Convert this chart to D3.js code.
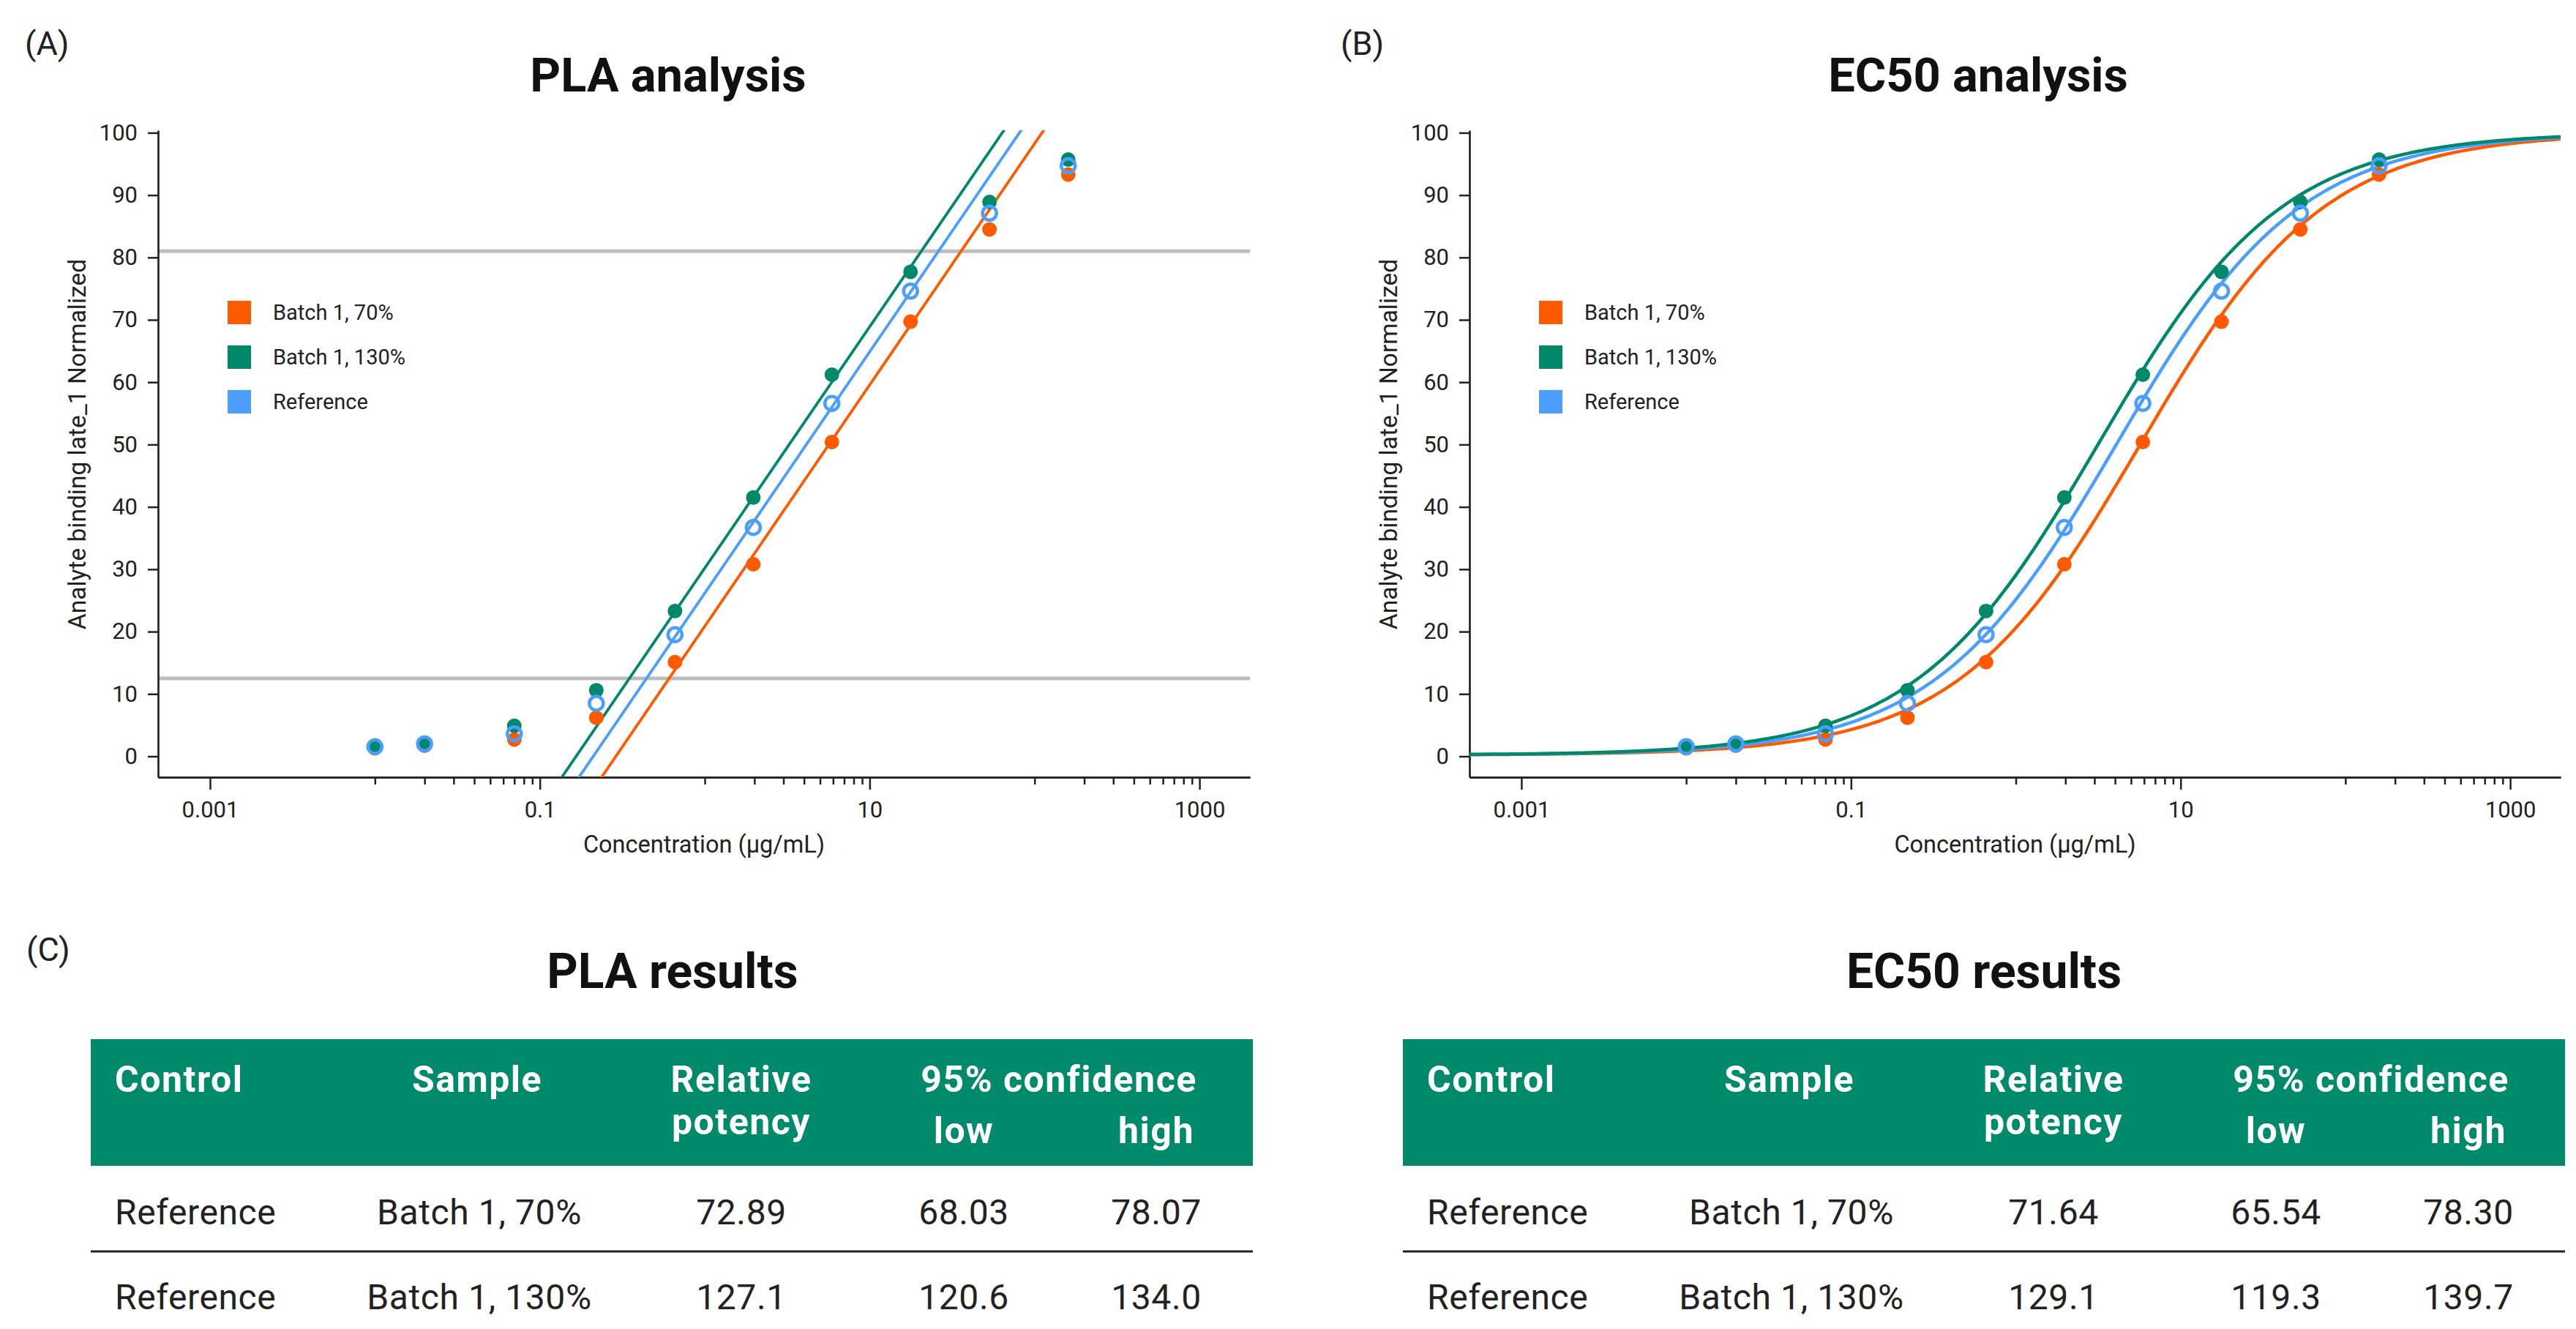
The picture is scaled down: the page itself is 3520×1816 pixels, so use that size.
<!DOCTYPE html>
<html>
<head>
<meta charset="utf-8">
<script src="https://cdn.jsdelivr.net/npm/d3@7"></script>
<style>
  body { margin: 0; background: #fff; }
  svg { display: block; font-family: Roboto, "Noto Sans", sans-serif; }
</style>
</head>
<body>
<svg id="fig" width="3520" height="1816"></svg>
<script>
// concentrations in µg/mL
const concentrations = [0.01, 0.02, 0.07, 0.22, 0.66, 1.97, 5.9, 17.7, 53.3, 160];

// normalized binding per series
const batch70 = [1.3, 1.7, 2.7, 6.2, 15.1, 30.8, 50.4, 69.7, 84.5, 93.3];
const batch130 = [1.5, 2.05, 4.9, 10.6, 23.3, 41.5, 61.2, 77.7, 88.9, 95.7];
const referenceValues = [1.55, 2.0, 3.6, 8.5, 19.5, 36.7, 56.6, 74.6, 87.1, 94.7];

const seriesNames = ["Batch 1, 70%", "Batch 1, 130%", "Reference"];
const seriesColors = ["#ff5a00", "#00886b", "#4a9eff"];

// PLA: parallel straight fits (slope per decade, log10 conc at 50 %)
const plaSlope = 38.7;
const plaMidLog = [0.753, 0.512, 0.616];
const plaLimits = [12.5, 81.0];

// EC50: 4-parameter logistic fits
const ec50Hill = 0.78;
const ec50Top = 100;
const ec50Bottom = 0.2;
const ec50Log = [0.757, 0.501, 0.612];

const yTicks = [0, 10, 20, 30, 40, 50, 60, 70, 80, 90, 100];
const xMajorTicks = [0.001, 0.1, 10, 1000];
const xMinorDecades = [0.01, 1, 100];

const tableHead = ["Control", "Sample", "Relative", "potency", "95% confidence", "low", "high"];
const plaRows = [
  ["Reference", "Batch 1, 70%", "72.89", "68.03", "78.07"],
  ["Reference", "Batch 1, 130%", "127.1", "120.6", "134.0"]
];
const ec50Rows = [
  ["Reference", "Batch 1, 70%", "71.64", "65.54", "78.30"],
  ["Reference", "Batch 1, 130%", "129.1", "119.3", "139.7"]
];

const svg = d3.select("#fig");
svg.append("rect").attr("width", 3520).attr("height", 1816).attr("fill", "#fff");

const ink = "#222";
const headGreen = "#008a6c";

function drawChart(left, right, kind, title, titleX, tag)
{
    const g = svg.append("g");
    const x = d3.scaleLog()
        .domain([Math.pow(10, -3.315), Math.pow(10, 3.306)])
        .range([left, right]);
    const y = d3.scaleLinear().domain([-3.35, 100.4]).range([1062, 178]);

    const clipId = "clip-" + kind;
    svg.append("clipPath").attr("id", clipId)
        .append("rect")
        .attr("x", left).attr("y", 178)
        .attr("width", right - left).attr("height", 1062 - 178);

    // tag + title
    g.append("text").attr("x", tag.x).attr("y", 75)
        .attr("font-size", 45).attr("fill", ink).text(tag.text);
    g.append("text").attr("x", titleX).attr("y", 125)
        .attr("text-anchor", "middle").attr("font-size", 65)
        .attr("font-weight", "bold").attr("fill", "#111").text(title);

    // y axis
    g.append("g").attr("transform", "translate(" + left + ",0)")
        .call(d3.axisLeft(y).tickValues(yTicks).tickSize(14).tickPadding(14).tickSizeOuter(0));
    // x axis, minor then labelled ticks
    const minor = [];
    xMinorDecades.forEach(function(d) {
        for (let k = 1; k <= 9; k++) minor.push(d * k);
    });
    g.append("g").attr("transform", "translate(0,1062)")
        .call(d3.axisBottom(x).tickValues(minor).tickSize(10).tickFormat("").tickSizeOuter(0));
    g.append("g").attr("transform", "translate(0,1062)")
        .call(d3.axisBottom(x).tickValues(xMajorTicks).tickSize(17).tickPadding(16)
            .tickFormat(d3.format("~g")).tickSizeOuter(0));

    g.selectAll(".domain").attr("stroke", ink).attr("stroke-width", 2.7);
    g.selectAll(".tick line").attr("stroke", ink).attr("stroke-width", 2.5);
    g.selectAll(".tick text").attr("font-size", 31).attr("fill", ink)
        .attr("font-family", "Roboto, sans-serif");

    // axis titles
    g.append("text")
        .attr("transform", "translate(" + (left - 111) + ",607) rotate(-90)")
        .attr("text-anchor", "middle").attr("dominant-baseline", "central")
        .attr("font-size", 33.5).attr("fill", ink)
        .text("Analyte binding late_1 Normalized");
    g.append("text").attr("x", (left + right) / 2).attr("y", 1165)
        .attr("text-anchor", "middle").attr("font-size", 32.5).attr("fill", ink)
        .text("Concentration (µg/mL)");

    const plot = g.append("g").attr("clip-path", "url(#" + clipId + ")");
    const dom = x.domain();

    if (kind === "pla")
    {
        plot.selectAll("line.limit").data(plaLimits).enter()
            .append("line").attr("class", "limit")
            .attr("x1", left + 2).attr("x2", right)
            .attr("y1", function(d) { return y(d); })
            .attr("y2", function(d) { return y(d); })
            .attr("stroke", "#bdbdbd").attr("stroke-width", 5);

        plot.selectAll("line.fit").data(plaMidLog).enter()
            .append("line").attr("class", "fit")
            .attr("x1", x(dom[0])).attr("x2", x(dom[1]))
            .attr("y1", function(m) { return y(plaSlope * (Math.log10(dom[0]) - m) + 50); })
            .attr("y2", function(m) { return y(plaSlope * (Math.log10(dom[1]) - m) + 50); })
            .attr("stroke", function(m, i) { return seriesColors[i]; })
            .attr("stroke-width", 3.8);
    }
    else
    {
        const logs = d3.range(0, 301).map(function(i) {
            return Math.log10(dom[0]) + i / 300 * (Math.log10(dom[1]) - Math.log10(dom[0]));
        });
        const line = d3.line()
            .x(function(d) { return x(Math.pow(10, d[0])); })
            .y(function(d) { return y(d[1]); })
            .curve(d3.curveBasis);
        [0, 2, 1].forEach(function(i) {
            const pts = logs.map(function(l) {
                return [l, ec50Bottom + (ec50Top - ec50Bottom) / (1 + Math.pow(10, ec50Hill * (ec50Log[i] - l)))];
            });
            plot.append("path").datum(pts)
                .attr("d", line).attr("fill", "none")
                .attr("stroke", seriesColors[i]).attr("stroke-width", 4.5);
        });
    }

    // data points
    const pts = g.append("g");
    [batch70, batch130].forEach(function(vals, i) {
        pts.selectAll(null).data(vals).enter().append("circle")
            .attr("cx", function(d, j) { return x(concentrations[j]); })
            .attr("cy", function(d) { return y(d); })
            .attr("r", 10)
            .attr("fill", seriesColors[i]);
    });
    pts.selectAll(null).data(referenceValues).enter().append("circle")
        .attr("cx", function(d, j) { return x(concentrations[j]); })
        .attr("cy", function(d) { return y(d); })
        .attr("r", 9.5)
        .attr("fill", "none")
        .attr("stroke", seriesColors[2]).attr("stroke-width", 4.5);

    // legend
    const leg = g.append("g");
    seriesNames.forEach(function(name, i) {
        leg.append("rect").attr("x", left + 95).attr("y", 411 + i * 61)
            .attr("width", 32).attr("height", 32).attr("fill", seriesColors[i]);
        leg.append("text").attr("x", left + 157).attr("y", 437 + i * 61)
            .attr("font-size", 29).attr("fill", ink).text(name);
    });
}

function drawTable(left, title, titleX, rows, tag)
{
    const g = svg.append("g");
    const w = 1588;
    if (tag)
    {
        g.append("text").attr("x", 36).attr("y", 1313)
            .attr("font-size", 45).attr("fill", ink).text(tag);
    }
    g.append("text").attr("x", titleX).attr("y", 1350)
        .attr("text-anchor", "middle").attr("font-size", 66)
        .attr("font-weight", "bold").attr("fill", "#111").text(title);

    g.append("rect").attr("x", left).attr("y", 1420)
        .attr("width", w).attr("height", 173).attr("fill", headGreen);

    const head = [
        { t: tableHead[0], x: 33, y: 1492, a: "start" },
        { t: tableHead[1], x: 528, y: 1492, a: "middle" },
        { t: tableHead[2], x: 889, y: 1492, a: "middle" },
        { t: tableHead[3], x: 889, y: 1550, a: "middle" },
        { t: tableHead[4], x: 1323, y: 1492, a: "middle" },
        { t: tableHead[5], x: 1193, y: 1562, a: "middle" },
        { t: tableHead[6], x: 1456, y: 1562, a: "middle" }
    ];
    g.selectAll("text.head").data(head).enter().append("text")
        .attr("class", "head")
        .attr("x", function(d) { return left + d.x; })
        .attr("y", function(d) { return d.y; })
        .attr("text-anchor", function(d) { return d.a; })
        .attr("font-size", 50).attr("letter-spacing", 1.5)
        .attr("font-weight", "bold").attr("fill", "#fff")
        .text(function(d) { return d.t; });

    const colX = [33, 531, 889, 1193, 1456];
    const rowY = [1673, 1789];
    rows.forEach(function(row, r) {
        row.forEach(function(cell, c) {
            g.append("text")
                .attr("x", left + colX[c]).attr("y", rowY[r])
                .attr("text-anchor", c === 0 ? "start" : "middle")
                .attr("font-size", 48).attr("letter-spacing", 0.6)
                .attr("fill", ink).text(cell);
        });
    });
    g.append("line").attr("x1", left).attr("x2", left + w)
        .attr("y1", 1710).attr("y2", 1710)
        .attr("stroke", ink).attr("stroke-width", 3);
}

drawChart(216, 1708, "pla", "PLA analysis", 913, { x: 34, text: "(A)" });
drawChart(2008, 3499, "ec50", "EC50 analysis", 2703, { x: 1832, text: "(B)" });
drawTable(124, "PLA results", 919, plaRows, "(C)");
drawTable(1917, "EC50 results", 2711, ec50Rows, null);
</script>
</body>
</html>
